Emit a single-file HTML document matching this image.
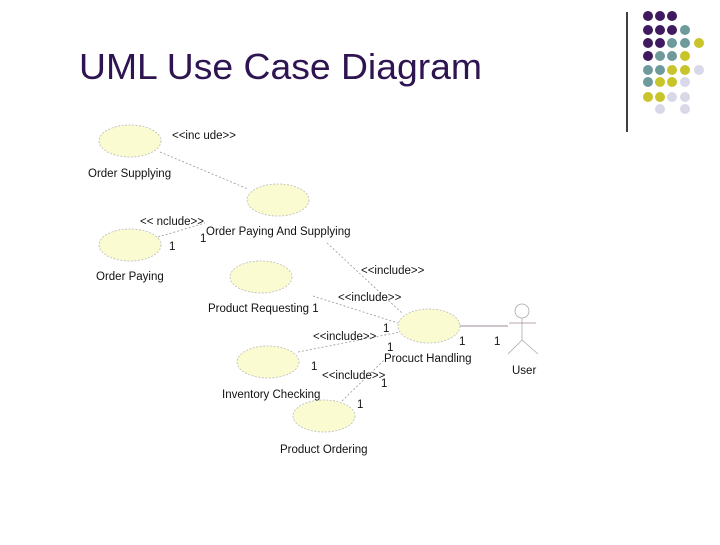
<!DOCTYPE html>
<html><head><style>
body{margin:0;background:#fff;}
svg text{font-family:"Liberation Sans",sans-serif;}
</style></head><body>
<svg width="720" height="540" viewBox="0 0 720 540" xmlns="http://www.w3.org/2000/svg">
<rect width="720" height="540" fill="#fff"/>
<text x="79" y="79" font-size="36.5" fill="#2e1450" textLength="403" lengthAdjust="spacingAndGlyphs">UML Use Case Diagram</text>
<line x1="627" y1="12" x2="627" y2="132" stroke="#000" stroke-width="1.5"/>
<g>
<circle cx="648" cy="16" r="5" fill="#3f1a5e"/><circle cx="660" cy="16" r="5" fill="#3f1a5e"/><circle cx="672" cy="16" r="5" fill="#3f1a5e"/>
<circle cx="648" cy="30" r="5" fill="#3f1a5e"/><circle cx="660" cy="30" r="5" fill="#3f1a5e"/><circle cx="672" cy="30" r="5" fill="#3f1a5e"/><circle cx="685" cy="30" r="5" fill="#6e9a9c"/>
<circle cx="648" cy="43" r="5" fill="#3f1a5e"/><circle cx="660" cy="43" r="5" fill="#3f1a5e"/><circle cx="672" cy="43" r="5" fill="#6e9a9c"/><circle cx="685" cy="43" r="5" fill="#6e9a9c"/><circle cx="699" cy="43" r="5" fill="#c8c42a"/>
<circle cx="648" cy="56" r="5" fill="#3f1a5e"/><circle cx="660" cy="56" r="5" fill="#6e9a9c"/><circle cx="672" cy="56" r="5" fill="#6e9a9c"/><circle cx="685" cy="56" r="5" fill="#c8c42a"/>
<circle cx="648" cy="70" r="5" fill="#6e9a9c"/><circle cx="660" cy="70" r="5" fill="#6e9a9c"/><circle cx="672" cy="70" r="5" fill="#c8c42a"/><circle cx="685" cy="70" r="5" fill="#c8c42a"/><circle cx="699" cy="70" r="5" fill="#d8d8e8"/>
<circle cx="648" cy="82" r="5" fill="#6e9a9c"/><circle cx="660" cy="82" r="5" fill="#c8c42a"/><circle cx="672" cy="82" r="5" fill="#c8c42a"/><circle cx="685" cy="82" r="5" fill="#d8d8e8"/>
<circle cx="648" cy="97" r="5" fill="#c8c42a"/><circle cx="660" cy="97" r="5" fill="#c8c42a"/><circle cx="672" cy="97" r="5" fill="#d8d8e8"/><circle cx="685" cy="97" r="5" fill="#d8d8e8"/>
<circle cx="660" cy="109" r="5" fill="#d8d8e8"/><circle cx="685" cy="109" r="5" fill="#d8d8e8"/>
</g>
<g stroke="#999" stroke-width="0.8" stroke-dasharray="2,2" fill="none">
<line x1="160" y1="152" x2="248" y2="189"/>
<line x1="158" y1="237" x2="205" y2="223"/>
<line x1="327" y1="243" x2="402" y2="313"/>
<line x1="313" y1="296" x2="398" y2="323"/>
<line x1="298" y1="352" x2="400" y2="332"/>
<line x1="342" y1="401" x2="384" y2="360"/>
</g>
<line x1="460" y1="326" x2="508" y2="326" stroke="#a08898" stroke-width="1"/>
<g fill="#fbfbd2" stroke="#bbb" stroke-width="0.8" stroke-dasharray="2,1.5">
<ellipse cx="130" cy="141" rx="31" ry="16"/>
<ellipse cx="278" cy="200" rx="31" ry="16"/>
<ellipse cx="130" cy="245" rx="31" ry="16"/>
<ellipse cx="261" cy="277" rx="31" ry="16"/>
<ellipse cx="429" cy="326" rx="31" ry="17"/>
<ellipse cx="268" cy="362" rx="31" ry="16"/>
<ellipse cx="324" cy="416" rx="31" ry="16"/>
</g>
<g stroke="#aaa" stroke-width="0.8" fill="none">
<circle cx="522" cy="311" r="7"/>
<line x1="522" y1="318" x2="522" y2="340"/>
<line x1="509" y1="323" x2="536" y2="323" stroke="#a08898"/>
<line x1="522" y1="340" x2="508" y2="354"/>
<line x1="522" y1="340" x2="538" y2="354"/>
</g>
<g font-size="11.5" fill="#111">
<text x="172" y="139">&lt;&lt;inc ude&gt;&gt;</text>
<text x="88" y="177">Order Supplying</text>
<text x="140" y="225">&lt;&lt; nclude&gt;&gt;</text>
<text x="200" y="242">1</text>
<text x="206" y="235">Order Paying And Supplying</text>
<text x="169" y="250">1</text>
<text x="96" y="280">Order Paying</text>
<text x="361" y="274">&lt;&lt;include&gt;&gt;</text>
<text x="338" y="301">&lt;&lt;include&gt;&gt;</text>
<text x="208" y="312">Product  Requesting 1</text>
<text x="383" y="332">1</text>
<text x="313" y="340">&lt;&lt;include&gt;&gt;</text>
<text x="459" y="345">1</text>
<text x="494" y="345">1</text>
<text x="387" y="351">1</text>
<text x="384" y="362">Procuct Handling</text>
<text x="311" y="370">1</text>
<text x="322" y="379">&lt;&lt;include&gt;&gt;</text>
<text x="512" y="374">User</text>
<text x="381" y="387">1</text>
<text x="222" y="398">Inventory Checking</text>
<text x="357" y="408">1</text>
<text x="280" y="453">Product Ordering</text>
</g>
</svg>
</body></html>
